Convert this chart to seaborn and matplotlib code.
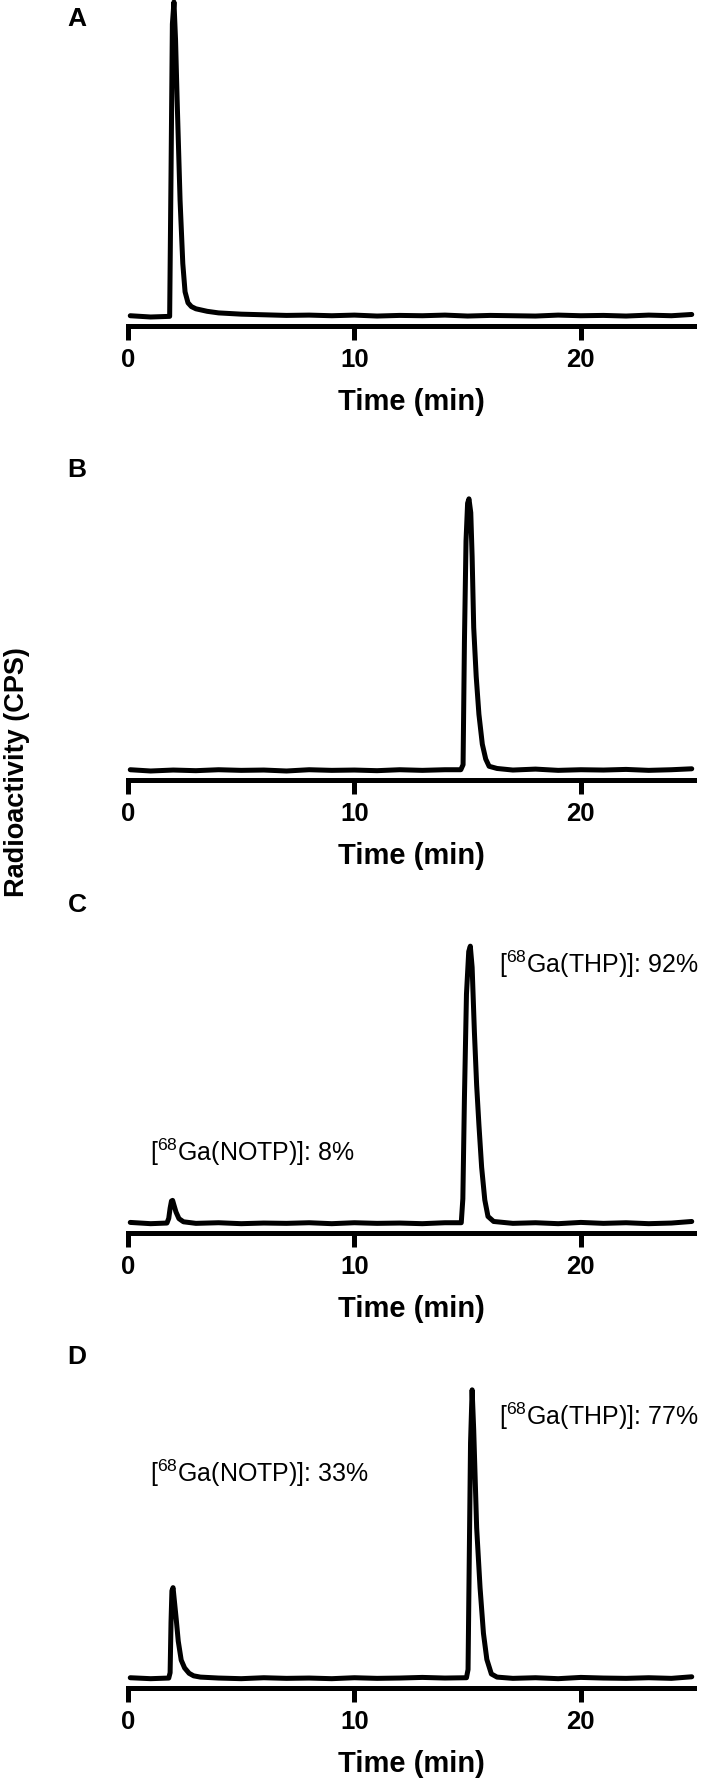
import pandas as pd
import seaborn as sns
import matplotlib.pyplot as plt

# Радиохроматограммы: время (мин) и относительная активность
grid_time = [0.1, 1, 2, 3, 4, 5, 6, 7, 8, 9, 10, 11, 12, 13, 14, 15, 16, 17, 18, 19, 20, 21, 22, 23, 24, 24.9]

base_A = [0.004, 0.000, 0.003, 0.010, 0.008, 0.006, 0.007, 0.005, 0.006, 0.004, 0.006, 0.003, 0.005,
          0.004, 0.006, 0.003, 0.005, 0.004, 0.003, 0.006, 0.004, 0.005, 0.003, 0.006, 0.004, 0.008]
base_B = [0.004, 0.000, 0.003, 0.001, 0.004, 0.002, 0.003, 0.000, 0.004, 0.002, 0.003, 0.001, 0.004,
          0.002, 0.004, 0.005, 0.006, 0.003, 0.006, 0.002, 0.004, 0.003, 0.005, 0.002, 0.004, 0.007]
base_C = [0.005, 0.001, 0.004, 0.002, 0.004, 0.001, 0.003, 0.002, 0.004, 0.001, 0.004, 0.002, 0.003,
          0.001, 0.004, 0.005, 0.006, 0.002, 0.004, 0.001, 0.005, 0.002, 0.004, 0.001, 0.003, 0.008]
base_D = [0.004, 0.001, 0.003, 0.002, 0.003, 0.001, 0.004, 0.002, 0.003, 0.001, 0.004, 0.002, 0.003,
          0.005, 0.003, 0.005, 0.006, 0.002, 0.004, 0.001, 0.005, 0.003, 0.002, 0.004, 0.002, 0.007]

peakA_time = [1.84, 1.9, 1.96, 2.03, 2.1, 2.17, 2.3, 2.42, 2.52, 2.65, 2.8, 3.0, 3.5, 4.0, 5.0]
peakA_cps = [0.002, 0.45, 0.93, 1.0, 0.88, 0.69, 0.37, 0.17, 0.08, 0.045, 0.033, 0.026, 0.018, 0.013, 0.009]

peakB_time = [14.7, 14.8, 14.86, 14.93, 15.0, 15.06, 15.14, 15.2, 15.27, 15.38, 15.5, 15.65, 15.8, 15.95, 16.3]
peakB_cps = [0.004, 0.02, 0.41, 0.73, 0.85, 0.864, 0.82, 0.68, 0.455, 0.3, 0.18, 0.085, 0.038, 0.015, 0.008]

peakC1_time = [1.72, 1.8, 1.86, 1.92, 1.97, 2.03, 2.12, 2.25, 2.45]
peakC1_cps = [0.003, 0.018, 0.05, 0.073, 0.075, 0.06, 0.038, 0.017, 0.007]
peakC2_time = [14.72, 14.79, 14.86, 14.95, 15.05, 15.12, 15.2, 15.3, 15.4, 15.5, 15.62, 15.76, 15.9, 16.15]
peakC2_cps = [0.004, 0.08, 0.4, 0.73, 0.865, 0.882, 0.815, 0.61, 0.44, 0.315, 0.18, 0.076, 0.024, 0.008]

peakD1_time = [1.8, 1.86, 1.9, 1.94, 1.99, 2.06, 2.13, 2.22, 2.35, 2.5, 2.7, 2.9, 3.2]
peakD1_cps = [0.003, 0.02, 0.18, 0.28, 0.29, 0.24, 0.19, 0.12, 0.06, 0.035, 0.018, 0.01, 0.006]
peakD2_time = [14.95, 15.02, 15.07, 15.13, 15.2, 15.27, 15.4, 15.55, 15.7, 15.85, 16.05, 16.3]
peakD2_cps = [0.004, 0.03, 0.36, 0.75, 0.918, 0.79, 0.48, 0.29, 0.145, 0.062, 0.016, 0.006]

panel_letters = ['A', 'B', 'C', 'D']
notes_C = [r'[$^{68}$Ga(NOTP)]: 8%', r'[$^{68}$Ga(THP)]: 92%']
notes_D = [r'[$^{68}$Ga(NOTP)]: 33%', r'[$^{68}$Ga(THP)]: 77%']


def build_trace(base, peaks):
    """Склеивает базовую линию и пики в одну кривую"""
    rows = []
    for t, v in zip(grid_time, base):
        if not any(min(pt) <= t <= max(pt) for pt, _ in peaks):
            rows.append((t, v))
    for pt, pv in peaks:
        rows.extend(zip(pt, pv))
    return pd.DataFrame(rows, columns=['time', 'cps']).sort_values('time')


traces = [
    build_trace(base_A, [(peakA_time, peakA_cps)]),
    build_trace(base_B, [(peakB_time, peakB_cps)]),
    build_trace(base_C, [(peakC1_time, peakC1_cps), (peakC2_time, peakC2_cps)]),
    build_trace(base_D, [(peakD1_time, peakD1_cps), (peakD2_time, peakD2_cps)]),
]

sns.set_style('ticks')
plt.rcParams['font.family'] = ['Liberation Sans', 'DejaVu Sans']
plt.rcParams['mathtext.fontset'] = 'custom'
plt.rcParams['mathtext.rm'] = 'Liberation Sans'
plt.rcParams['mathtext.default'] = 'rm'
plt.rcParams['text.color'] = 'black'
plt.rcParams['axes.labelcolor'] = 'black'
plt.rcParams['axes.edgecolor'] = 'black'
plt.rcParams['xtick.color'] = 'black'

W, H = 708, 1791
fig = plt.figure(figsize=(W / 100, H / 100), dpi=100)

x0, x1 = 128, 694
ax_h = 324
spines_y = [326, 780, 1233, 1688]
letters_y = [19, 470, 905, 1357]

for i, df in enumerate(traces):
    sy = spines_y[i]
    ax = fig.add_axes([x0 / W, (H - sy) / H, (x1 - x0) / W, ax_h / H])
    sns.lineplot(data=df, x='time', y='cps', ax=ax, color='black', linewidth=3.6, clip_on=False)
    ax.set_xlim(0, 25)
    ax.set_ylim(-0.0286, 1.0)
    ax.set_yticks([])
    ax.set_ylabel('')
    ax.set_xticks([0, 10, 20])
    sns.despine(ax=ax, left=True)
    ax.spines['bottom'].set_linewidth(3.6)
    ax.tick_params(axis='x', length=10, width=3.6, labelsize=18.5, pad=6, direction='out')
    for lab in ax.get_xticklabels():
        lab.set_fontweight('bold')
    ax.set_xlabel('Time (min)', fontsize=21, fontweight='bold')
    ax.xaxis.set_label_coords(0.5, -76 / ax_h)
    ax.xaxis.label.set_va('center')
    fig.text(77 / W, 1 - letters_y[i] / H, panel_letters[i], ha='center', va='center',
             fontsize=19, fontweight='bold')

# подписи пиков
fig.text(150 / W, 1 - 1152 / H, notes_C[0], ha='left', va='center', fontsize=18)
fig.text(499 / W, 1 - 964 / H, notes_C[1], ha='left', va='center', fontsize=18)
fig.text(150 / W, 1 - 1473 / H, notes_D[0], ha='left', va='center', fontsize=18)
fig.text(499 / W, 1 - 1416 / H, notes_D[1], ha='left', va='center', fontsize=18)

fig.text(17 / W, 1 - 772 / H, 'Radioactivity (CPS)', rotation=90, ha='center', va='center',
         fontsize=19.5, fontweight='bold')

plt.savefig('out.png', dpi=100)
